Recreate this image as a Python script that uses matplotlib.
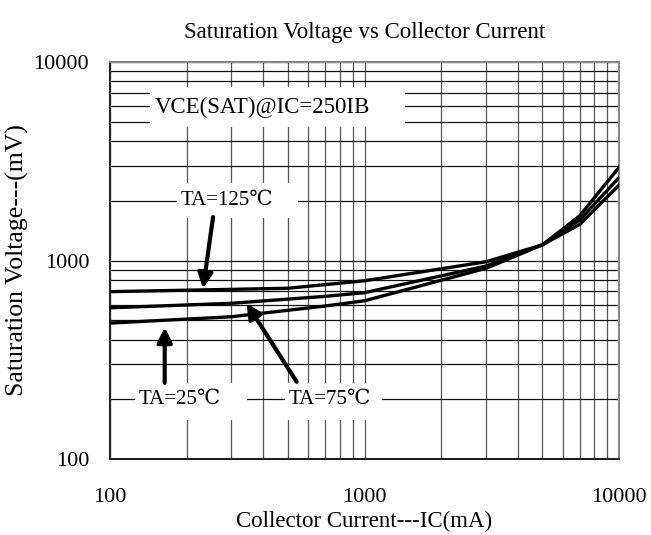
import numpy as np
import matplotlib
matplotlib.use("Agg")
import matplotlib.pyplot as plt
from matplotlib.patches import Rectangle

plt.rcParams['font.family'] = ['Liberation Serif', 'DejaVu Serif']

# collector current (mA) and saturation voltage (mV)
ic_25 = [100, 300, 700, 1000, 3000, 5000, 7000, 10000]
vce_25 = [484, 521, 590, 627, 914, 1200, 1680, 2950]

ic_75 = [100, 300, 700, 1000, 3000, 5000, 7000, 10000]
vce_75 = [578, 609, 660, 689, 938, 1200, 1600, 2620]

ic_125 = [100, 500, 1000, 3000, 5000, 7000, 10000]
vce_125 = [697, 725, 791, 986, 1200, 1520, 2400]

x_ticks = [100, 1000, 10000]
y_ticks = [100, 1000, 10000]

fig = plt.figure(figsize=(6.51, 5.35), dpi=100)
ax = fig.add_axes([0.169, 0.142, 0.782, 0.742])
ax.set_xscale('log')
ax.set_yscale('log')
ax.set_xlim(100, 10000)
ax.set_ylim(100, 10000)

ax.grid(True, which='both', axis='y', color='#111111', lw=0.9)
ax.grid(True, which='both', axis='x', color='#555555', lw=0.9)
ax.set_axisbelow(True)

for xs, ys in [(ic_25, vce_25), (ic_75, vce_75), (ic_125, vce_125)]:
    ax.plot(xs, ys, color='black', lw=2.4, solid_joinstyle='round', zorder=3)

ax.set_xticks(x_ticks)
ax.set_xticklabels([str(t) for t in x_ticks])
ax.set_yticks(y_ticks)
ax.set_yticklabels([str(t) for t in y_ticks])
ax.xaxis.set_minor_formatter(plt.NullFormatter())
ax.yaxis.set_minor_formatter(plt.NullFormatter())
ax.tick_params(which='both', length=0, labelsize=16)
ax.tick_params(axis='x', pad=20.5)
ax.tick_params(axis='y', pad=15)

for side in ['left', 'bottom']:
    ax.spines[side].set_color('#222222')
    ax.spines[side].set_linewidth(1.5)
for side in ['top', 'right']:
    ax.spines[side].set_color('#888888')
    ax.spines[side].set_linewidth(1.5)

ax.set_title('Saturation Voltage vs Collector Current', fontsize=16.5, pad=17)
ax.set_xlabel('Collector Current---IC(mA)', fontsize=16.5, labelpad=3)
ax.set_ylabel('Saturation Voltage---(mV)', fontsize=18.5, labelpad=3)

# white label boxes that blank out the grid (axes fractions)
for x0, y0, w, h in [(0.079, 0.836, 0.501, 0.101),
                     (0.131, 0.607, 0.238, 0.088),
                     (0.049, 0.098, 0.220, 0.094),
                     (0.344, 0.098, 0.190, 0.094)]:
    ax.add_patch(Rectangle((x0, y0), w, h, transform=ax.transAxes,
                           facecolor='white', edgecolor='none', zorder=2.5))

ax.text(0.30, 0.886, 'VCE(SAT)@IC=250IB', fontsize=16.5, ha='center', va='center',
        transform=ax.transAxes, zorder=4)
ax.text(288, 2000, 'TA=125℃', fontsize=15, ha='center', va='center', zorder=4)
ax.text(188, 200, 'TA=25℃', fontsize=15, ha='center', va='center', zorder=4)
ax.text(731, 200, 'TA=75℃', fontsize=15, ha='center', va='center', zorder=4)

arrow = dict(arrowstyle='-|>', color='black', lw=3, mutation_scale=22,
             shrinkA=0, shrinkB=0)
ax.annotate('', xy=(232, 724), xytext=(254, 1656), arrowprops=arrow, zorder=5)
ax.annotate('', xy=(164, 461), xytext=(164, 242), arrowprops=arrow, zorder=5)
ax.annotate('', xy=(344, 609), xytext=(541, 245), arrowprops=arrow, zorder=5)

fig.savefig('out.png', dpi=100)
